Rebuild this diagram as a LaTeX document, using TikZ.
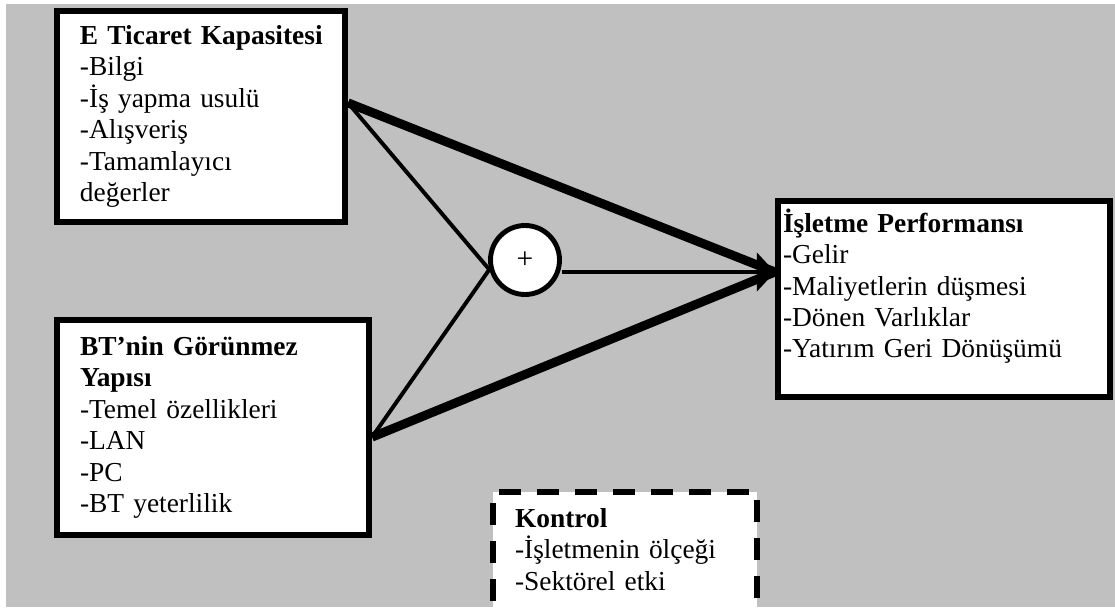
\documentclass[tikz,border=0pt]{standalone}
\usepackage{fontspec}
\setmainfont{Liberation Serif}
\usetikzlibrary{arrows.meta,positioning,calc}
\definecolor{panelgrey}{RGB}{192,192,192}

\begin{document}
\begin{tikzpicture}[
    box/.style={rectangle, draw=black, fill=white, line width=4.3pt,
                align=left, inner xsep=5.75mm, font=\fontsize{19.5}{22.4}\selectfont},
    ctrlbox/.style={box, dash pattern=on 5.5mm off 4mm},
    junction/.style={circle, draw=black, fill=white, line width=3.5pt,
                minimum size=17.25mm, inner sep=0pt, font=\fontsize{21}{22}\selectfont},
    thinline/.style={line width=2.8pt, black},
    thickline/.style={line width=6.4pt, black},
    arr/.style={thinline, -{Triangle[length=4.5mm, width=9.5mm]}}
]
\useasboundingbox (0,0) rectangle (27.875,-15.175);
\clip (0,0) rectangle (27.875,-15.175);
\fill[panelgrey] (0.15,-0.1) rectangle (27.875,-15.175);

\node[box, text width=6.05cm, minimum height=5.275cm] (ecap) at (5.025,-2.9125)
    {\mbox{\textbf{E Ticaret Kapasitesi}}\\-Bilgi\\-İş yapma usulü\\-Alışveriş\\-Tamamlayıcı\\değerler};
\node[box, text width=6.65cm, minimum height=5.375cm] (bt) at (5.325,-10.6875)
    {\textbf{BT’nin Görünmez}\\\textbf{Yapısı}\\-Temel özellikleri\\-LAN\\-PC\\-BT yeterlilik};
\node[box, text width=8.05cm, inner xsep=1.25mm, minimum height=4.9cm] (perf) at (23.6,-7.475)
    {\textbf{İşletme Performansı}\\-Gelir\\-Maliyetlerin düşmesi\\-Dönen Varlıklar\\-Yatırım Geri Dönüşümü\\~};
\node[ctrlbox, text width=5.5cm, inner xsep=5.5mm, inner ysep=4mm, anchor=north west] (ctrl) at (12.25,-12.225)
    {\textbf{Kontrol}\\-İşletmenin ölçeği\\-Sektörel etki\\~};
\node[junction] (plus) at (13.125,-6.5) {+};

\coordinate (tip) at ([yshift=6.75mm]perf.west);
\coordinate (ehub) at ([yshift=3.4mm]ecap.east);
\coordinate (bhub) at ([yshift=-2.4mm]bt.east);

\draw[thickline] (ehub) -- (tip);
\draw[thickline] (bhub) -- (tip);
\draw[thinline] (ehub) -- (plus.195);
\draw[thinline] (bhub) -- (plus.195);
\draw[arr] (plus.east |- tip) -- (tip);
\end{tikzpicture}
\end{document}
